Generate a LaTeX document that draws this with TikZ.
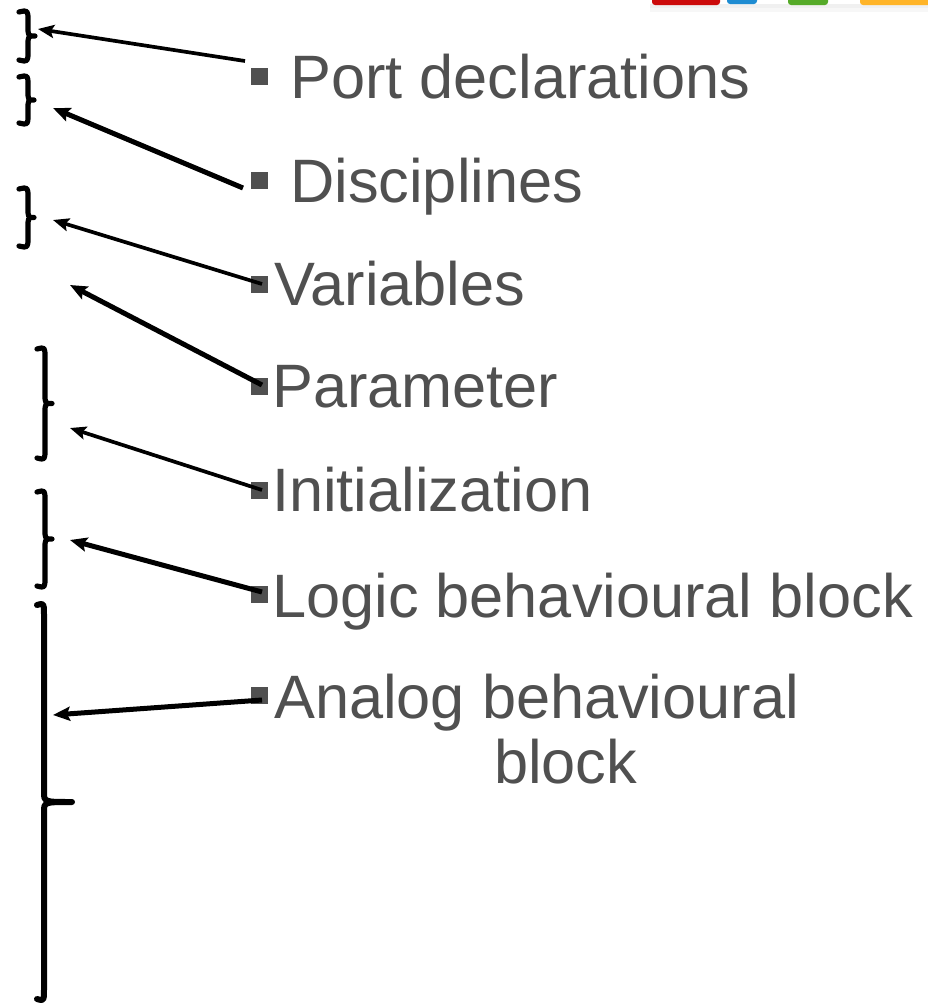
\documentclass[tikz,border=0pt]{standalone}
\usepackage{fontspec}
\setmainfont{Liberation Sans}
\usetikzlibrary{arrows.meta}
\definecolor{txtgray}{HTML}{505050}
\definecolor{logored}{HTML}{CC0A0A}
\definecolor{logoblue}{HTML}{1E8CD2}
\definecolor{logogreen}{HTML}{55AA28}
\definecolor{logoorange}{HTML}{FFB428}
\newcommand\mybrace[6]{%
  \pgfmathsetmacro\bxa{#1+#4}%
  \pgfmathsetmacro\bxw{#1+#5}%
  \pgfmathsetmacro\bym{(#2+#3)/2}%
  \pgfmathsetmacro\bc{min(10,(#3-#2)/5)}%
  \draw[brc,line width=#6] (#1,{#2+1}) .. controls (\bxa,{#2-1}) .. (\bxa,{#2+\bc})
    -- (\bxa,{\bym-\bc}) .. controls (\bxa,\bym) .. (\bxw,\bym)
    .. controls (\bxa,\bym) .. (\bxa,{\bym+\bc})
    -- (\bxa,{#3-\bc}) .. controls (\bxa,{#3+1}) .. (#1,{#3-1});
}
\begin{document}
\begin{tikzpicture}[x=1pt,y=-1pt,
  lbl/.style={anchor=base west, inner sep=0pt, text=txtgray, font=\fontsize{61.3}{65}\selectfont},
  bul/.style={fill=txtgray, minimum size=17pt, inner sep=0pt},
  thinarr/.style={line width=3.7pt, -{Stealth[length=16pt,width=13pt,inset=3pt]}},
  thickarr/.style={line width=5pt, -{Stealth[length=17pt,width=14pt,inset=3pt]}},
  brc/.style={line cap=round, line join=round},
  logobar/.style={rounded corners=3pt}]
\fill[white] (0,0) rectangle (928,1004);
\useasboundingbox (0,0) rectangle (928,1004);

% logo bars at the top right
\fill[black!3] (650,4) rectangle (928,12);
\fill[black!6] (650,4) rectangle (928,8);
\fill[logobar, logored] (652,-10) rectangle (720,5);
\fill[logobar, logoblue] (727,-10) rectangle (757,4);
\fill[logobar, logogreen] (788,-10) rectangle (828,5);
\fill[logobar, logoorange] (860,-10) rectangle (935,5);

% braces
\mybrace{19}{11}{61}{9}{16}{5.2pt}
\mybrace{19}{76}{124}{9}{15}{5.2pt}
\mybrace{19}{188}{247}{9}{15}{5.2pt}
\mybrace{37}{348}{459}{8}{15}{5.2pt}
\mybrace{37}{491}{587}{8}{15}{5.2pt}
\mybrace{37}{604}{1000}{7}{35}{6pt}

% bullets
\node[bul] (b1) at (259,76) {};
\node[bul] (b2) at (259,180) {};
\node[bul] (b3) at (259,284) {};
\node[bul] (b4) at (259,386) {};
\node[bul] (b5) at (259,490) {};
\node[bul] (b6) at (259,594) {};
\node[bul] (b7) at (259,695) {};

% labels
\node[lbl] (port) at (290,98) {Port declarations};
\node[lbl] (disc) at (290,202) {Disciplines};
\node[lbl] (vars) at (274,305) {Variables};
\node[lbl] (param) at (272,407) {Parameter};
\node[lbl] (init) at (272,511) {Initialization};
\node[lbl] (logic) at (272,617) {Logic behavioural block};
\node[lbl] (analog) at (274,718) {Analog behavioural};
\node[lbl] (block) at (494,783) {block};

% arrow ends
\coordinate (t1) at (38,29);  \coordinate (s1) at (245,61);
\coordinate (t2) at (53,108); \coordinate (s2) at (243,188);
\coordinate (t3) at (53,220); \coordinate (s3) at (262,284);
\coordinate (t4) at (70,285); \coordinate (s4) at (262,385);
\coordinate (t5) at (70,428); \coordinate (s5) at (262,490);
\coordinate (t6) at (70,540); \coordinate (s6) at (262,592);
\coordinate (t7) at (53,715); \coordinate (s7) at (262,700);

\draw[thinarr] (s1) -- (t1);
\draw[thickarr] (s2) -- (t2);
\draw[thinarr] (s3) -- (t3);
\draw[thickarr] (s4) -- (t4);
\draw[thinarr] (s5) -- (t5);
\draw[thickarr] (s6) -- (t6);
\draw[thickarr] (s7) -- (t7);
\end{tikzpicture}
\end{document}
